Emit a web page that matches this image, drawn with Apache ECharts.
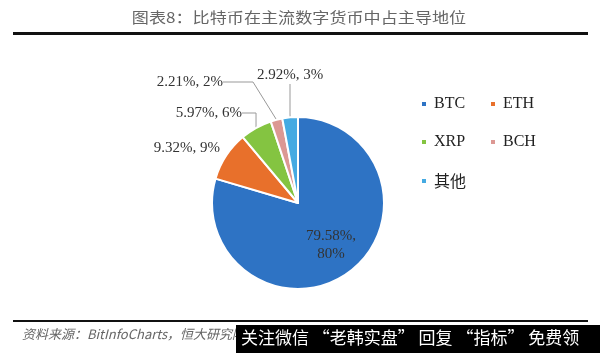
<!DOCTYPE html>
<html><head><meta charset="utf-8">
<script src="https://cdn.jsdelivr.net/npm/echarts@6/dist/echarts.min.js"></script>
<style>html,body{margin:0;padding:0;background:#fff}#c{width:600px;height:353px}</style>
</head><body><div id="c"></div>
<script>
var titleText = '图表8：比特币在主流数字货币中占主导地位';
var sourceText = '资料来源：BitInfoCharts，恒大研究院';
var watermarkText = '关注微信 “老韩实盘” 回复 “指标” 免费领';
var categories = ['BTC', 'ETH', 'XRP', 'BCH', '其他'];
var shares = [79.58, 9.32, 5.97, 2.21, 2.92];
var roundedShares = [80, 9, 6, 2, 3];
var colors = ['#2E73C4', '#E8702B', '#84C441', '#DC9893', '#45AAE2'];

var labelPos = [
  [331, 245, 'center'],
  [220, 148, 'right'],
  [242, 113, 'right'],
  [223, 82, 'right'],
  [290, 75, 'center']
];

var chart = echarts.init(document.getElementById('c'), null, {renderer: 'canvas'});
var serif = '"Liberation Serif", "Times New Roman", serif';
var data = categories.map(function (n, i) {
  var d = {name: n, value: shares[i], itemStyle: {color: colors[i]}};
  if (i === 0) d.label = {position: 'inside'};
  if (i === 1) d.labelLine = {show: false};
  return d;
});
var legends = [
  {name: 'BTC', left: 415, top: 91},
  {name: 'ETH', left: 484, top: 91},
  {name: 'XRP', left: 415, top: 129},
  {name: 'BCH', left: 484, top: 129},
  {name: '其他', left: 415, top: 168}
].map(function (l) {
  return {
    data: [l.name], left: l.left, top: l.top, orient: 'horizontal',
    itemWidth: 6, itemHeight: 6, icon: 'rect', selectedMode: false,
    textStyle: {fontFamily: l.name === '其他' ? '"Noto Sans CJK SC", serif' : serif, fontSize: 16, color: '#222', padding: [0, 0, 0, 2]}
  };
});
chart.setOption({
  animation: false,
  backgroundColor: '#fff',
  legend: legends,
  graphic: [
    {type: 'text', x: 299, y: 17, scaleX: 1.14, style: {text: titleText, fontSize: 15, fill: '#666', fontFamily: '"Noto Sans CJK SC", sans-serif', textAlign: 'center', textVerticalAlign: 'middle'}},
    {type: 'rect', shape: {x: 13, y: 32, width: 575, height: 3}, style: {fill: '#111'}},
    {type: 'rect', shape: {x: 13, y: 320, width: 575, height: 2}, style: {fill: '#111'}},
    {type: 'text', left: 22, top: 328, style: {text: sourceText, fontSize: 13, fill: '#666', fontStyle: 'italic', fontFamily: '"Noto Sans CJK SC", serif'}},
    {type: 'rect', shape: {x: 236, y: 325, width: 364, height: 28}, style: {fill: '#000'}},
    {type: 'text', left: 241, top: 329, style: {text: watermarkText, fontSize: 17, fill: '#fff', fontFamily: '"Noto Sans CJK SC", sans-serif'}}
  ],
  series: [{
    type: 'pie',
    center: [298, 203],
    radius: [0, 86],
    startAngle: 90,
    clockwise: true,
    avoidLabelOverlap: false,
    itemStyle: {borderColor: '#fff', borderWidth: 2},
    label: {
      show: true,
      formatter: function (p) {
        var s = shares[p.dataIndex].toFixed(2) + '%, ' + roundedShares[p.dataIndex] + '%';
        if (p.dataIndex === 0) s = shares[0].toFixed(2) + '%,\n' + roundedShares[0] + '%';
        return s;
      },
      fontFamily: serif, fontSize: 15, color: '#333', lineHeight: 18
    },
    labelLine: {show: true, lineStyle: {color: '#999', width: 1}},
    labelLayout: function (p) {
      var q = labelPos[p.dataIndex];
      return {x: q[0], y: q[1], align: q[2], verticalAlign: 'middle'};
    },
    data: data
  }]
});
</script></body></html>
